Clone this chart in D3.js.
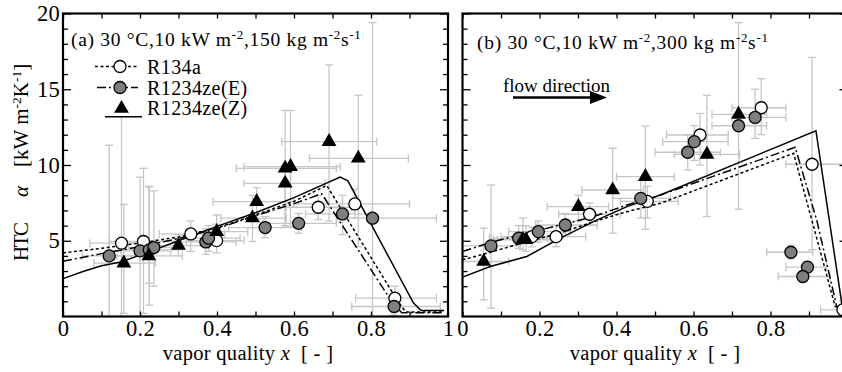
<!DOCTYPE html>
<html><head><meta charset="utf-8">
<script src="https://cdn.jsdelivr.net/npm/d3@7/dist/d3.min.js"></script>
<style>
html,body{margin:0;padding:0;background:#fff;}
svg, svg text{font-family:"Liberation Serif","Times New Roman",Times,serif !important;}
</style></head>
<body>
<svg id="chart" width="842" height="372"></svg>
<script>
// ---------- DATA ----------
// points: [x, y, xLow, xHigh, yLow, yHigh]
const leftR134a = [
  [0.152,4.84,0.07,0.24,0.0,13.2],[0.209,4.95,0.12,0.29,0.2,9.78],[0.332,5.45,0.25,0.42,4.3,6.3],
  [0.399,5.01,0.32,0.47,4.2,6.1],[0.663,7.21,0.58,0.75,6.4,8.0],[0.758,7.43,0.60,0.90,6.5,8.4],
  [0.862,1.21,0.76,0.97,0.3,2.0]
];
const leftR1234zeE = [
  [0.12,4.0,0.05,0.20,0.0,11.3],[0.20,4.33,0.12,0.28,0.0,9.2],[0.224,4.4,0.15,0.30,0.75,8.55],
  [0.236,4.55,0.17,0.31,2.0,8.3],[0.371,4.92,0.29,0.45,4.1,5.8],[0.378,5.17,0.30,0.46,4.3,6.0],
  [0.525,5.87,0.43,0.62,5.2,6.6],[0.612,6.15,0.52,0.71,5.5,6.8],[0.726,6.77,0.63,0.80,5.4,8.0],
  [0.804,6.49,0.71,0.97,0.0,19.4],[0.86,0.66,0.75,0.98,0.1,1.4]
];
const leftR1234zeZ = [
  [0.158,3.52,0.08,0.24,0.2,7.4],[0.223,4.0,0.14,0.31,2.2,8.6],[0.30,4.68,0.22,0.38,4.0,5.4],
  [0.399,5.6,0.32,0.48,4.9,6.7],[0.492,6.5,0.41,0.58,4.95,8.0],[0.503,7.58,0.39,0.60,6.4,8.5],
  [0.577,8.79,0.47,0.68,6.0,10.0],[0.577,9.78,0.45,0.71,5.9,13.6],[0.591,9.89,0.47,0.72,5.9,13.6],
  [0.691,11.54,0.568,0.815,6.3,16.6],[0.767,10.44,0.64,0.897,4.6,14.6]
];
const rightR134a = [
  [0.18,5.27,0.10,0.26,4.6,5.9],[0.243,5.27,0.17,0.32,4.6,6.0],[0.33,6.75,0.25,0.41,6.0,7.5],
  [0.48,7.6,0.41,0.56,6.5,8.6],[0.617,11.98,0.53,0.69,10.0,13.4],[0.776,13.78,0.70,0.84,12.0,15.7],
  [0.908,10.05,0.84,0.99,4.4,17.1],[0.988,0.44,0.93,1.05,0.0,1.0]
];
const rightR1234zeE = [
  [0.074,4.66,0.0,0.15,0.55,8.68],[0.146,5.17,0.07,0.22,4.5,6.0],[0.197,5.6,0.12,0.28,4.9,6.3],
  [0.267,6.04,0.19,0.35,5.3,6.8],[0.463,7.8,0.39,0.54,6.5,9.0],[0.585,10.84,0.50,0.67,9.67,12.0],
  [0.602,11.54,0.52,0.69,10.3,12.6],[0.717,12.59,0.648,0.79,7.08,13.2],[0.76,13.14,0.70,0.84,11.76,15.0],
  [0.853,4.24,0.79,0.91,3.8,4.7],[0.896,3.26,0.84,0.946,2.9,3.6],[0.884,2.64,0.82,0.955,2.3,3.0]
];
const rightR1234zeZ = [
  [0.055,3.63,0.0,0.12,1.1,5.83],[0.157,5.1,0.08,0.23,4.4,6.5],[0.165,5.06,0.09,0.24,4.3,6.0],
  [0.301,7.25,0.22,0.38,6.3,8.0],[0.39,8.35,0.31,0.47,5.5,11.1],[0.475,9.23,0.40,0.55,5.76,12.57],
  [0.635,10.7,0.55,0.72,6.6,14.6],[0.717,13.34,0.648,0.79,12.5,19.4]
];
// correlation curves [x, y]
const leftLineR134a = [[0,4.2],[0.1,4.5],[0.2,4.85],[0.3,5.25],[0.4,5.85],[0.5,6.7],[0.6,7.6],[0.685,8.65],[0.87,1.0],[0.89,0.3],[0.99,0.3]];
const leftLineE = [[0,3.65],[0.1,4.15],[0.2,4.6],[0.3,5.15],[0.4,5.8],[0.5,6.65],[0.6,7.45],[0.672,8.1],[0.86,0.75],[0.88,0.25],[0.99,0.25]];
const leftLineZ = [[0,2.5],[0.05,2.95],[0.1,3.35],[0.15,3.6],[0.2,4.05],[0.3,5.0],[0.4,5.95],[0.5,6.85],[0.6,7.85],[0.72,9.2],[0.74,8.95],[0.91,0.9],[0.93,0.4],[0.99,0.4]];
const rightLineR134a = [[0,3.74],[0.08,4.29],[0.167,4.94],[0.254,5.5],[0.34,6.26],[0.427,6.92],[0.514,7.47],[0.86,10.77],[0.912,5.93],[0.968,0.66],[1.0,0.3]];
const rightLineE = [[0,4.29],[0.08,4.94],[0.167,5.5],[0.254,6.04],[0.34,6.59],[0.427,7.36],[0.514,8.02],[0.864,11.17],[0.92,6.37],[0.972,0.66],[1.0,0.3]];
const rightLineZ = [[0,2.6],[0.072,3.3],[0.167,3.96],[0.254,5.17],[0.34,6.26],[0.427,7.25],[0.514,8.02],[0.918,12.26],[0.985,0.88],[1.0,0.3]];

const xTicksMajor = [0,0.2,0.4,0.6,0.8,1];
const xTickLabels = ["0","0.2","0.4","0.6","0.8","1"];
const xTicksMinor = [0.1,0.3,0.5,0.7,0.9];
const yTicksMajor = [5,10,15,20];
const yTicksMinor = [1,2,3,4,6,7,8,9,11,12,13,14,16,17,18,19];
const legendNames = ["R134a","R1234ze(E)","R1234ze(Z)"];

// ---------- DRAW ----------
const FONT = "Liberation Serif, Times New Roman, serif";
const svg = d3.select("#chart");
const yTop = 13.5, yBot = 316.5;
const y = d3.scaleLinear().domain([0,20]).range([yBot,yTop]);
const GRAY = "#c6c6c6";

function txt(sel){ return sel.style("font-family",FONT).attr("fill","#000"); }

function panel(x0, x1, pts, lines, opts){
  const x = d3.scaleLinear().domain([0,1]).range([x0,x1]);
  const g = svg.append("g");
  const eb = g.append("g").attr("stroke",GRAY).attr("stroke-width",1.3).attr("fill","none");
  const allPts = [].concat(pts[0],pts[1],pts[2]);
  allPts.forEach(p=>{
    const cx=x(p[0]), cy=y(p[1]);
    const xl=x(p[2]), xh=x(p[3]), yl=y(p[4]), yh=y(p[5]);
    eb.append("line").attr("x1",xl).attr("x2",xh).attr("y1",cy).attr("y2",cy);
    eb.append("line").attr("x1",xl).attr("x2",xl).attr("y1",cy-4).attr("y2",cy+4);
    eb.append("line").attr("x1",xh).attr("x2",xh).attr("y1",cy-4).attr("y2",cy+4);
    eb.append("line").attr("x1",cx).attr("x2",cx).attr("y1",yl).attr("y2",yh);
    if(p[4]>0.05) eb.append("line").attr("x1",cx-4).attr("x2",cx+4).attr("y1",yl).attr("y2",yl);
    eb.append("line").attr("x1",cx-4).attr("x2",cx+4).attr("y1",yh).attr("y2",yh);
  });
  const lg = d3.line().x(d=>x(d[0])).y(d=>y(d[1]));
  const dashes = ["3,2.5","9,3,2,3",null];
  lines.forEach((L,i)=>{
    g.append("path").attr("d",lg(L)).attr("fill","none").attr("stroke","#000")
      .attr("stroke-width",1.5).attr("stroke-dasharray",dashes[i]);
  });
  drawMarkers(g, pts[0].map(p=>[x(p[0]),y(p[1])]), 0);
  drawMarkers(g, pts[1].map(p=>[x(p[0]),y(p[1])]), 1);
  drawMarkers(g, pts[2].map(p=>[x(p[0]),y(p[1])]), 2);

  const ax = svg.append("g");
  const bottomMaj = d3.axisBottom(x).tickValues(xTicksMajor).tickSize(-5).tickPadding(4)
      .tickFormat((d,i)=>xTickLabels[i]);
  const bottomMin = d3.axisBottom(x).tickValues(xTicksMinor).tickSize(-5).tickFormat("");
  const topAll = d3.axisTop(x).tickValues(xTicksMajor.concat(xTicksMinor)).tickSize(-5).tickFormat("");
  const bm = ax.append("g").attr("transform",`translate(0,${yBot})`).call(bottomMaj);
  if(opts.hideLast) bm.selectAll(".tick text").filter((d,i)=>i===5).remove();
  ax.append("g").attr("transform",`translate(0,${yBot})`).call(bottomMin);
  ax.append("g").attr("transform",`translate(0,${yTop})`).call(topAll);
  const leftMaj = d3.axisLeft(y).tickValues(yTicksMajor).tickSize(-8).tickPadding(3)
      .tickFormat(opts.yLabels ? d3.format("d") : "");
  const leftMin = d3.axisLeft(y).tickValues(yTicksMinor).tickSize(-5).tickFormat("");
  const rightMaj = d3.axisRight(y).tickValues(yTicksMajor).tickSize(-8).tickFormat("");
  const rightMin = d3.axisRight(y).tickValues(yTicksMinor).tickSize(-5).tickFormat("");
  ax.append("g").attr("transform",`translate(${x0},0)`).call(leftMaj);
  ax.append("g").attr("transform",`translate(${x0},0)`).call(leftMin);
  ax.append("g").attr("transform",`translate(${x1},0)`).call(rightMaj);
  ax.append("g").attr("transform",`translate(${x1},0)`).call(rightMin);
  ax.selectAll("g").attr("font-family",FONT).attr("font-size",22.5);
  ax.selectAll(".domain").remove();
  ax.selectAll(".tick line").attr("stroke","#000").attr("stroke-width",1.3);
  txt(ax.selectAll(".tick text")).attr("font-size",22.5).attr("letter-spacing",0.3);
  svg.append("rect").attr("x",x0).attr("y",yTop).attr("width",x1-x0).attr("height",yBot-yTop)
    .attr("fill","none").attr("stroke","#000").attr("stroke-width",2.2);
  return x;
}

function drawMarkers(g, coords, type){
  if(type===2){
    g.selectAll(null).data(coords).enter().append("path")
      .attr("d",d3.symbol(d3.symbolTriangle,95)())
      .attr("transform",d=>`translate(${d[0]},${d[1]})`).attr("fill","#000");
  } else {
    g.selectAll(null).data(coords).enter().append("circle")
      .attr("cx",d=>d[0]).attr("cy",d=>d[1]).attr("r",6)
      .attr("fill",type===0?"#fff":"#7f7f7f").attr("stroke","#000").attr("stroke-width",1.3);
  }
}

panel(63, 448, [leftR134a,leftR1234zeE,leftR1234zeZ], [leftLineR134a,leftLineE,leftLineZ], {yLabels:true});
panel(462.5, 847.5, [rightR134a,rightR1234zeE,rightR1234zeZ], [rightLineR134a,rightLineE,rightLineZ], {yLabels:false, hideLast:true});

function cond(xp, yp, lab, G){
  const t = txt(svg.append("text")).attr("x",xp).attr("y",yp).attr("font-size",19.5)
    .attr("letter-spacing",0.7);
  t.append("tspan").text(`(${lab}) 30 °C,10 kW m`);
  t.append("tspan").attr("dy",-7).attr("font-size",13).text("-2");
  t.append("tspan").attr("dy",7).text(`,${G} kg m`);
  t.append("tspan").attr("dy",-7).attr("font-size",13).text("-2");
  t.append("tspan").attr("dy",7).text("s");
  t.append("tspan").attr("dy",-7).attr("font-size",13).text("-1");
}
cond(71, 46, "a", 150);
cond(477, 49, "b", 300);

const leg = svg.append("g");
leg.append("rect").attr("x",92).attr("y",56).attr("width",150).attr("height",60).attr("fill","#fff");
const legY = [66.5, 87.5, 107.5];
leg.append("line").attr("x1",95).attr("x2",138).attr("y1",legY[0]).attr("y2",legY[0])
  .attr("stroke","#000").attr("stroke-width",1.5).attr("stroke-dasharray","3,2.5");
leg.append("line").attr("x1",97).attr("x2",138).attr("y1",legY[1]).attr("y2",legY[1])
  .attr("stroke","#000").attr("stroke-width",1.5).attr("stroke-dasharray","9,3,2,3");
leg.append("line").attr("x1",105).attr("x2",142).attr("y1",116.7).attr("y2",116.7)
  .attr("stroke","#000").attr("stroke-width",1.5);
drawMarkers(leg, [[120,legY[0]]], 0);
drawMarkers(leg, [[120,legY[1]]], 1);
drawMarkers(leg, [[121.5,legY[2]+1]], 2);
legendNames.forEach((n,i)=>{
  txt(leg.append("text")).attr("x",147).attr("y",legY[i]+7).attr("font-size",20)
    .attr("letter-spacing",0.4).text(n);
});

txt(svg.append("text")).attr("x",503).attr("y",92).attr("font-size",19).text("flow direction");
svg.append("line").attr("x1",513).attr("x2",592).attr("y1",97.5).attr("y2",97.5).attr("stroke","#000").attr("stroke-width",2.5);
svg.append("path").attr("d","M590,91 L607,97.5 L590,104 Z").attr("fill","#000");

function xTitle(cx){
  const t = txt(svg.append("text")).attr("x",cx).attr("y",360).attr("font-size",20.5)
    .attr("text-anchor","middle").attr("xml:space","preserve").attr("letter-spacing",0.3);
  t.append("tspan").text("vapor quality ");
  t.append("tspan").attr("font-style","italic").text("x");
  t.append("tspan").text("  [ - ]");
}
xTitle(248);
xTitle(655);

const yt = txt(svg.append("text")).attr("transform","translate(28,160) rotate(-90)").attr("font-size",21);
yt.append("tspan").attr("x",-101).attr("letter-spacing",-1.5).text("HTC");
yt.append("tspan").attr("x",-37).attr("font-style","italic").text("α");
yt.append("tspan").attr("x",-7).text("[kW m");
yt.append("tspan").attr("dy",-7).attr("font-size",13.5).text("-2");
yt.append("tspan").attr("dy",7).text("K");
yt.append("tspan").attr("dy",-7).attr("font-size",13.5).text("-1");
yt.append("tspan").attr("dy",7).text("]");
</script>
</body></html>
